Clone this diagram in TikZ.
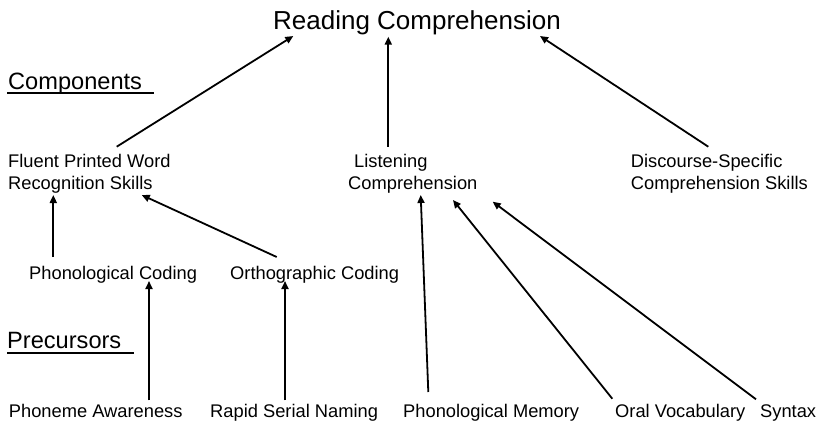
\documentclass[tikz,border=0pt]{standalone}
\usepackage{fontspec}
\setmainfont{Liberation Sans}
\usetikzlibrary{arrows.meta}
\begin{document}
\begin{tikzpicture}[x=1pt,y=-1pt,
  lbl/.style={anchor=base west,inner sep=0pt,font=\fontsize{18.3}{22}\selectfont},
  head/.style={anchor=base west,inner sep=0pt,font=\fontsize{23.6}{28}\selectfont},
  ttl/.style={anchor=base west,inner sep=0pt,font=\fontsize{26}{30}\selectfont},
  arr/.style={line width=1.8pt,-{Triangle[length=8pt,width=7pt]}},
  uline/.style={line width=1.8pt}]
\useasboundingbox (0,0) rectangle (839,424);
% texts
\node[ttl] (title) at (273,29) {Reading Comprehension};
\node[head] (comp) at (8,89.3) {Components};
\node[head] (prec) at (7,348.7) {Precursors};
\node[lbl] (fluent1) at (8,167.3) {Fluent Printed Word};
\node[lbl] (fluent2) at (8,189.3) {Recognition Skills};
\node[lbl] (listen1) at (354,167.3) {Listening};
\node[lbl] (listen2) at (348,189.3) {Comprehension};
\node[lbl] (disc1) at (630.7,167.3) {Discourse-Specific};
\node[lbl] (disc2) at (630.7,189.3) {Comprehension Skills};
\node[lbl] (phc) at (29,279) {Phonological Coding};
\node[lbl] (orc) at (230,279) {Orthographic Coding};
\node[lbl] (pa) at (8.7,417.3) {Phoneme Awareness};
\node[lbl] (rsn) at (210,417.3) {Rapid Serial Naming};
\node[lbl] (pm) at (403,417.3) {Phonological Memory};
\node[lbl] (ov) at (615,417.3) {Oral Vocabulary};
\node[lbl] (syn) at (760,417.3) {Syntax};
% underlines
\draw[uline] ([shift={(-1,4)}]comp.base west) -- ([shift={(146,4)}]comp.base west);
\draw[uline] ([shift={(0,4)}]prec.base west) -- ([shift={(127,4)}]prec.base west);
% arrows
\draw[arr] ([shift={(108.7,-20.6)}]fluent1.base west) -- ([shift={(20.3,7)}]title.base west);
\draw[arr] ([shift={(34.3,-20.6)}]listen1.base west) -- ([shift={(115.3,7.7)}]title.base west);
\draw[arr] ([shift={(77.6,-20.6)}]disc1.base west) -- ([shift={(267,7)}]title.base west);
\draw[arr] ([shift={(24.3,-22)}]phc.base west) -- ([shift={(45.3,5.7)}]fluent2.base west);
\draw[arr] ([shift={(46.7,-22)}]orc.base west) -- ([shift={(133.7,5.7)}]fluent2.base west);
\draw[arr] ([shift={(140.3,-17)}]pa.base west) -- ([shift={(120,2)}]phc.base west);
\draw[arr] ([shift={(75,-17)}]rsn.base west) -- ([shift={(55,2)}]orc.base west);
\draw[arr] ([shift={(25.3,-25.3)}]pm.base west) -- ([shift={(72.7,5.7)}]listen2.base west);
\draw[arr] ([shift={(-2.7,-18.6)}]ov.base west) -- ([shift={(105,10.7)}]listen2.base west);
\draw[arr] ([shift={(-4,-18)}]syn.base west) -- ([shift={(144.7,12.4)}]listen2.base west);
\end{tikzpicture}
\end{document}
